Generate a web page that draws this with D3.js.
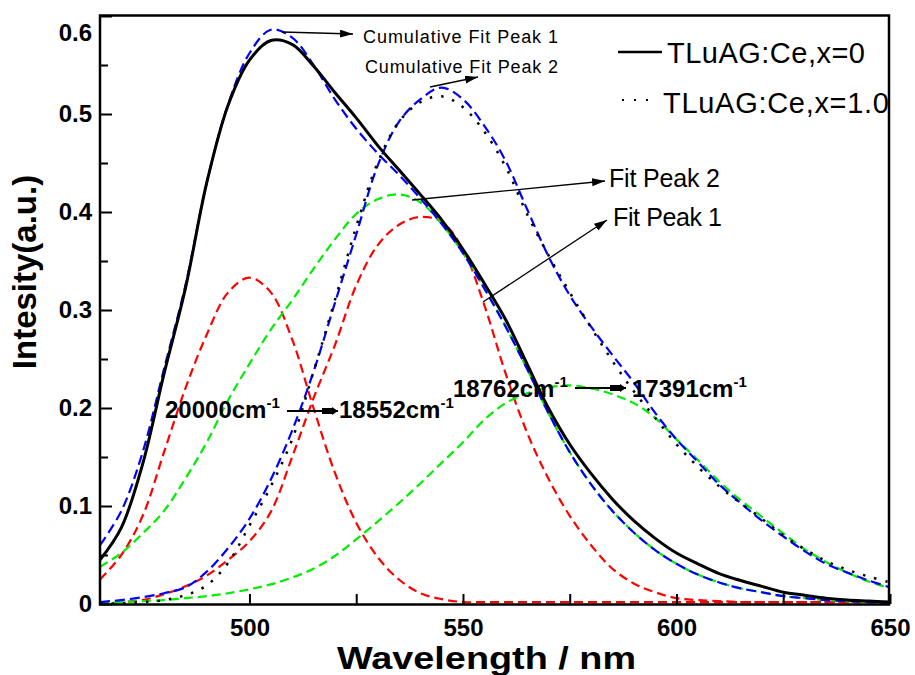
<!DOCTYPE html>
<html>
<head>
<meta charset="utf-8">
<script src="https://cdn.jsdelivr.net/npm/d3@7"></script>
<style>
  body { margin: 0; background: #fff; }
  svg { display: block; font-family: Arial, "Liberation Sans", sans-serif; }
</style>
</head>
<body>
<svg id="chart" width="915" height="675"></svg>
<script>
// wavelength samples (nm)
var wavelength = [465, 470, 475, 480, 485, 490, 495, 500, 505, 510, 515, 520, 525, 530, 535, 540, 545, 550, 555,
                  560, 565, 570, 575, 580, 585, 590, 595, 600, 605, 610, 615, 620, 625, 630, 635, 640, 645, 650];

// TLuAG:Ce, x=0 measured spectrum and its fit
var sample0 = [0.045, 0.078, 0.143, 0.235, 0.322, 0.43, 0.509, 0.555, 0.575, 0.571, 0.549, 0.522, 0.496, 0.468, 0.443, 0.418, 0.392, 0.362, 0.327,
               0.29, 0.245, 0.2, 0.163, 0.133, 0.107, 0.085, 0.067, 0.052, 0.041, 0.031, 0.024, 0.018, 0.012, 0.009, 0.006, 0.004, 0.003, 0.002];
var cumFit1 = [0.06, 0.095, 0.155, 0.24, 0.325, 0.43, 0.51, 0.562, 0.586, 0.578, 0.55, 0.515, 0.485, 0.46, 0.438, 0.414, 0.388, 0.358, 0.322,
               0.283, 0.24, 0.195, 0.155, 0.122, 0.095, 0.073, 0.055, 0.041, 0.03, 0.022, 0.016, 0.012, 0.008, 0.006, 0.004, 0.003, 0.002, 0.001];
var peakA1 = [0.025, 0.05, 0.09, 0.155, 0.22, 0.275, 0.318, 0.333, 0.318, 0.27, 0.2, 0.134, 0.083, 0.048, 0.025, 0.011, 0.005, 0.002, 0.002,
              0.002, 0.002, 0.002, 0.002, 0.002, 0.002, 0.002, 0.002, 0.002, 0.002, 0.002, 0.002, 0.002, 0.002, 0.002, 0.002, 0.002, 0.002, 0.002];
var peakB1 = [0.038, 0.052, 0.072, 0.095, 0.128, 0.165, 0.208, 0.245, 0.28, 0.31, 0.342, 0.372, 0.398, 0.413, 0.418, 0.41, 0.388, 0.358, 0.322,
              0.283, 0.24, 0.195, 0.155, 0.122, 0.095, 0.073, 0.055, 0.041, 0.03, 0.022, 0.016, 0.012, 0.008, 0.006, 0.004, 0.003, 0.002, 0.001];

// TLuAG:Ce, x=1.0 measured spectrum and its fit
var sample1 = [0.0, 0.001, 0.002, 0.004, 0.009, 0.019, 0.042, 0.08, 0.12, 0.168, 0.237, 0.31, 0.385, 0.45, 0.492, 0.512, 0.518, 0.507, 0.482,
               0.446, 0.398, 0.356, 0.318, 0.282, 0.248, 0.217, 0.19, 0.163, 0.14, 0.12, 0.103, 0.087, 0.07, 0.056, 0.044, 0.035, 0.028, 0.022];
var cumFit2 = [0.002, 0.004, 0.007, 0.011, 0.017, 0.033, 0.057, 0.087, 0.127, 0.177, 0.237, 0.307, 0.377, 0.447, 0.492, 0.515, 0.527, 0.515, 0.488,
               0.452, 0.403, 0.355, 0.315, 0.283, 0.254, 0.226, 0.195, 0.168, 0.145, 0.122, 0.103, 0.085, 0.069, 0.054, 0.041, 0.032, 0.024, 0.017];
var peakA2 = [0.0, 0.002, 0.004, 0.01, 0.018, 0.029, 0.045, 0.064, 0.094, 0.15, 0.21, 0.264, 0.325, 0.366, 0.387, 0.395, 0.39, 0.362, 0.305,
              0.235, 0.175, 0.128, 0.09, 0.06, 0.036, 0.021, 0.012, 0.006, 0.004, 0.003, 0.002, 0.002, 0.002, 0.002, 0.002, 0.002, 0.002, 0.002];
var peakB2 = [0.001, 0.002, 0.003, 0.004, 0.006, 0.008, 0.011, 0.015, 0.02, 0.027, 0.036, 0.049, 0.066, 0.084, 0.103, 0.123, 0.144, 0.165, 0.188,
              0.205, 0.215, 0.221, 0.223, 0.22, 0.214, 0.205, 0.19, 0.168, 0.147, 0.125, 0.106, 0.089, 0.072, 0.056, 0.043, 0.032, 0.023, 0.016];

var xTickLabels = [500, 550, 600, 650];
var xMinorTicks = [525, 575, 625];
var yTickLabels = [0, 0.1, 0.2, 0.3, 0.4, 0.5, 0.6];
var yMinorTicks = [0.05, 0.15, 0.25, 0.35, 0.45, 0.55];

var legendNames = ["TLuAG:Ce,x=0", "TLuAG:Ce,x=1.0"];

(function () {
    var svg = d3.select("#chart");
    var plotLeft = 100, plotRight = 889, plotTop = 15.5, plotBottom = 604;

    var x = d3.scaleLinear().domain([465, 650]).range([plotLeft, plotRight + 1]);
    var y = d3.scaleLinear().domain([0, 0.6]).range([plotBottom, 16]);

    var defs = svg.append("defs");
    defs.append("clipPath").attr("id", "plot")
        .append("rect").attr("x", plotLeft).attr("y", plotTop)
        .attr("width", plotRight - plotLeft).attr("height", plotBottom - plotTop);

    // arrow heads
    defs.append("marker").attr("id", "head").attr("markerUnits", "userSpaceOnUse")
        .attr("markerWidth", 14).attr("markerHeight", 10).attr("refX", 13).attr("refY", 4)
        .attr("orient", "auto")
        .append("path").attr("d", "M0,0 L13,4 L0,8 Z").attr("fill", "#000");
    defs.append("marker").attr("id", "headBig").attr("markerUnits", "userSpaceOnUse")
        .attr("markerWidth", 18).attr("markerHeight", 10).attr("refX", 16).attr("refY", 4)
        .attr("orient", "auto")
        .append("path").attr("d", "M0,1 L10,1 L10,0 L16,4 L10,8 L10,7 L0,7 Z").attr("fill", "#000");

    var line = d3.line()
        .x(function (d) { return x(d[0]); })
        .y(function (d) { return y(d[1]); })
        .curve(d3.curveCatmullRom.alpha(0.5));

    function series(values) { return wavelength.map(function (w, i) { return [w, values[i]]; }); }

    var curves = [
        { values: peakA1, color: "#ff0000", width: 2.2, dash: "9,5" },
        { values: peakA2, color: "#ff0000", width: 2.2, dash: "9,5" },
        { values: peakB1, color: "#00ee00", width: 2.2, dash: "9,5" },
        { values: peakB2, color: "#00ee00", width: 2.2, dash: "9,5" },
        { values: cumFit1, color: "#0000ff", width: 2.2, dash: "10,5" },
        { values: cumFit2, color: "#0000ff", width: 2.2, dash: "10,5" },
        { values: sample1, color: "#000", width: 2.5, dash: "2.5,9" },
        { values: sample0, color: "#000", width: 3, dash: null }
    ];

    var plot = svg.append("g").attr("clip-path", "url(#plot)");
    plot.selectAll("path.curve")
        .data(curves)
        .enter()
        .append("path")
        .attr("class", "curve")
        .attr("d", function (c) { return line(series(c.values)); })
        .attr("fill", "none")
        .attr("stroke", function (c) { return c.color; })
        .attr("stroke-width", function (c) { return c.width; })
        .attr("stroke-dasharray", function (c) { return c.dash; });

    // axes with inward ticks
    var yAxis = svg.append("g").attr("transform", "translate(" + plotLeft + ",0)")
        .call(d3.axisLeft(y).tickValues(yTickLabels).tickSize(-12).tickPadding(8).tickFormat(d3.format("~g")));
    svg.append("g").attr("transform", "translate(" + plotLeft + ",0)")
        .call(d3.axisLeft(y).tickValues(yMinorTicks).tickSize(-8).tickFormat(""));
    svg.append("g").attr("transform", "translate(0," + plotBottom + ")")
        .call(d3.axisBottom(x).tickValues(xTickLabels).tickSize(-10).tickPadding(15));
    svg.append("g").attr("transform", "translate(0," + plotBottom + ")")
        .call(d3.axisBottom(x).tickValues(xMinorTicks).tickSize(-10).tickFormat(""));

    svg.selectAll(".domain").remove();
    svg.selectAll(".tick line").attr("stroke", "#000").attr("stroke-width", 2);
    svg.selectAll(".tick text").attr("font-size", 24).attr("font-weight", "bold")
        .attr("font-family", "Arial, 'Liberation Sans', sans-serif").attr("fill", "#000");
    yAxis.selectAll(".tick text").filter(function (d) { return d === 0.6; }).attr("dy", "1.0em");

    // frame
    svg.append("rect").attr("x", plotLeft).attr("y", plotTop)
        .attr("width", plotRight - plotLeft).attr("height", plotBottom + 0.5 - plotTop)
        .attr("fill", "none").attr("stroke", "#000").attr("stroke-width", 2.5);

    // axis titles
    svg.append("text").attr("x", 337).attr("y", 669)
        .attr("font-size", 32).attr("font-weight", "bold").attr("textLength", 299)
        .attr("lengthAdjust", "spacingAndGlyphs")
        .text("Wavelength / nm");
    svg.append("text").attr("transform", "translate(36,272) rotate(-90)")
        .attr("text-anchor", "middle").attr("font-size", 33).attr("font-weight", "bold")
        .text("Intesity(a.u.)");

    // legend
    svg.append("line").attr("x1", 618).attr("x2", 662).attr("y1", 52).attr("y2", 52)
        .attr("stroke", "#000").attr("stroke-width", 2.5);
    svg.append("line").attr("x1", 622).attr("x2", 658).attr("y1", 100).attr("y2", 100)
        .attr("stroke", "#000").attr("stroke-width", 2).attr("stroke-dasharray", "2,10");
    svg.append("text").attr("x", 667).attr("y", 63).attr("font-size", 29).attr("textLength", 198).text(legendNames[0]);
    svg.append("text").attr("x", 663).attr("y", 113).attr("font-size", 29).attr("textLength", 226).text(legendNames[1]);

    // fit annotations
    var notes = [
        { text: "Cumulative Fit Peak 1", tx: 363, ty: 43, size: 18, len: 195, from: [282, 32], to: [353, 34] },
        { text: "Cumulative Fit Peak 2", tx: 365, ty: 73, size: 18, len: 193, from: [430, 87], to: [478, 77] },
        { text: "Fit Peak 2", tx: 609, ty: 187, size: 25, len: 111, from: [412, 200], to: [605, 181] },
        { text: "Fit Peak 1", tx: 613, ty: 226, size: 25, len: 109, from: [483, 302], to: [607, 220] }
    ];
    notes.forEach(function (n) {
        svg.append("line").attr("x1", n.from[0]).attr("y1", n.from[1]).attr("x2", n.to[0]).attr("y2", n.to[1])
            .attr("stroke", "#000").attr("stroke-width", 1.3).attr("marker-end", "url(#head)");
        svg.append("text").attr("x", n.tx).attr("y", n.ty).attr("font-size", n.size)
            .attr("textLength", n.len).text(n.text);
    });

    // peak positions in wavenumber
    var waves = [
        { label: "20000", tx: 165, ty: 418 },
        { label: "18552", tx: 339, ty: 418 },
        { label: "18762", tx: 453, ty: 397 },
        { label: "17391", tx: 632, ty: 397 }
    ];
    waves.forEach(function (w) {
        var t = svg.append("text").attr("x", w.tx).attr("y", w.ty).attr("font-size", 24).attr("font-weight", "bold");
        t.append("tspan").text(w.label + "cm");
        t.append("tspan").attr("dy", -10).attr("font-size", 15).text("-1");
    });
    svg.append("line").attr("x1", 287).attr("x2", 338).attr("y1", 411).attr("y2", 411)
        .attr("stroke", "#000").attr("stroke-width", 2).attr("marker-end", "url(#headBig)");
    svg.append("line").attr("x1", 575).attr("x2", 626).attr("y1", 388).attr("y2", 388)
        .attr("stroke", "#000").attr("stroke-width", 2).attr("marker-end", "url(#headBig)");
})();
</script>
</body>
</html>
